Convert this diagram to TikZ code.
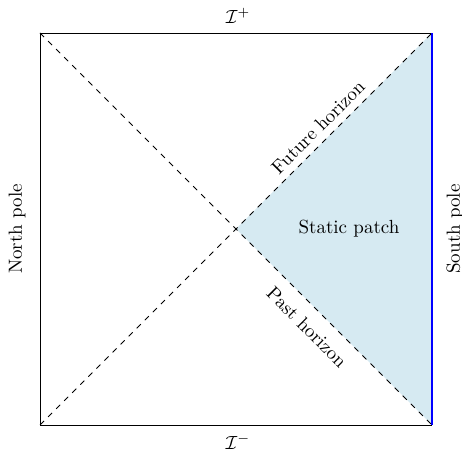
\documentclass[tikz,border=0pt]{standalone}
\begin{document}
\begin{tikzpicture}[x=0.5263pt,y=-0.5263pt,
  horizon/.style={dashed,thin},
  lbl/.style={inner sep=1pt,font=\normalsize}]
\definecolor{patch}{RGB}{214,234,242}
\useasboundingbox (0,0) rectangle (462,457);
\coordinate (tl) at (40,33);
\coordinate (tr) at (432,33);
\coordinate (bl) at (40,425);
\coordinate (br) at (432,425);
\coordinate (c) at (236,229);
\fill[patch] (c) -- (tr) -- (br) -- cycle;
\draw[thin] (tr) -- (tl) -- (bl) -- (br);
\draw[blue,line width=1pt] (tr) -- (br);
\draw[horizon] (tl) -- (br);
\draw[horizon] (bl) -- (tr);
\node[lbl] (ip) at (238,16) {$\mathcal{I}^+$};
\node[lbl] (im) at (238,442) {$\mathcal{I}^-$};
\node[lbl,rotate=90] (np) at (17,229) {North pole};
\node[lbl,rotate=90] (sp) at (455,229) {South pole};
\node[lbl] (sp2) at (349,229) {Static patch};
\node[lbl,rotate=45] (fh) at (318,127) {Future horizon};
\node[lbl,rotate=-45] (ph) at (307,327) {Past horizon};
\end{tikzpicture}
\end{document}
